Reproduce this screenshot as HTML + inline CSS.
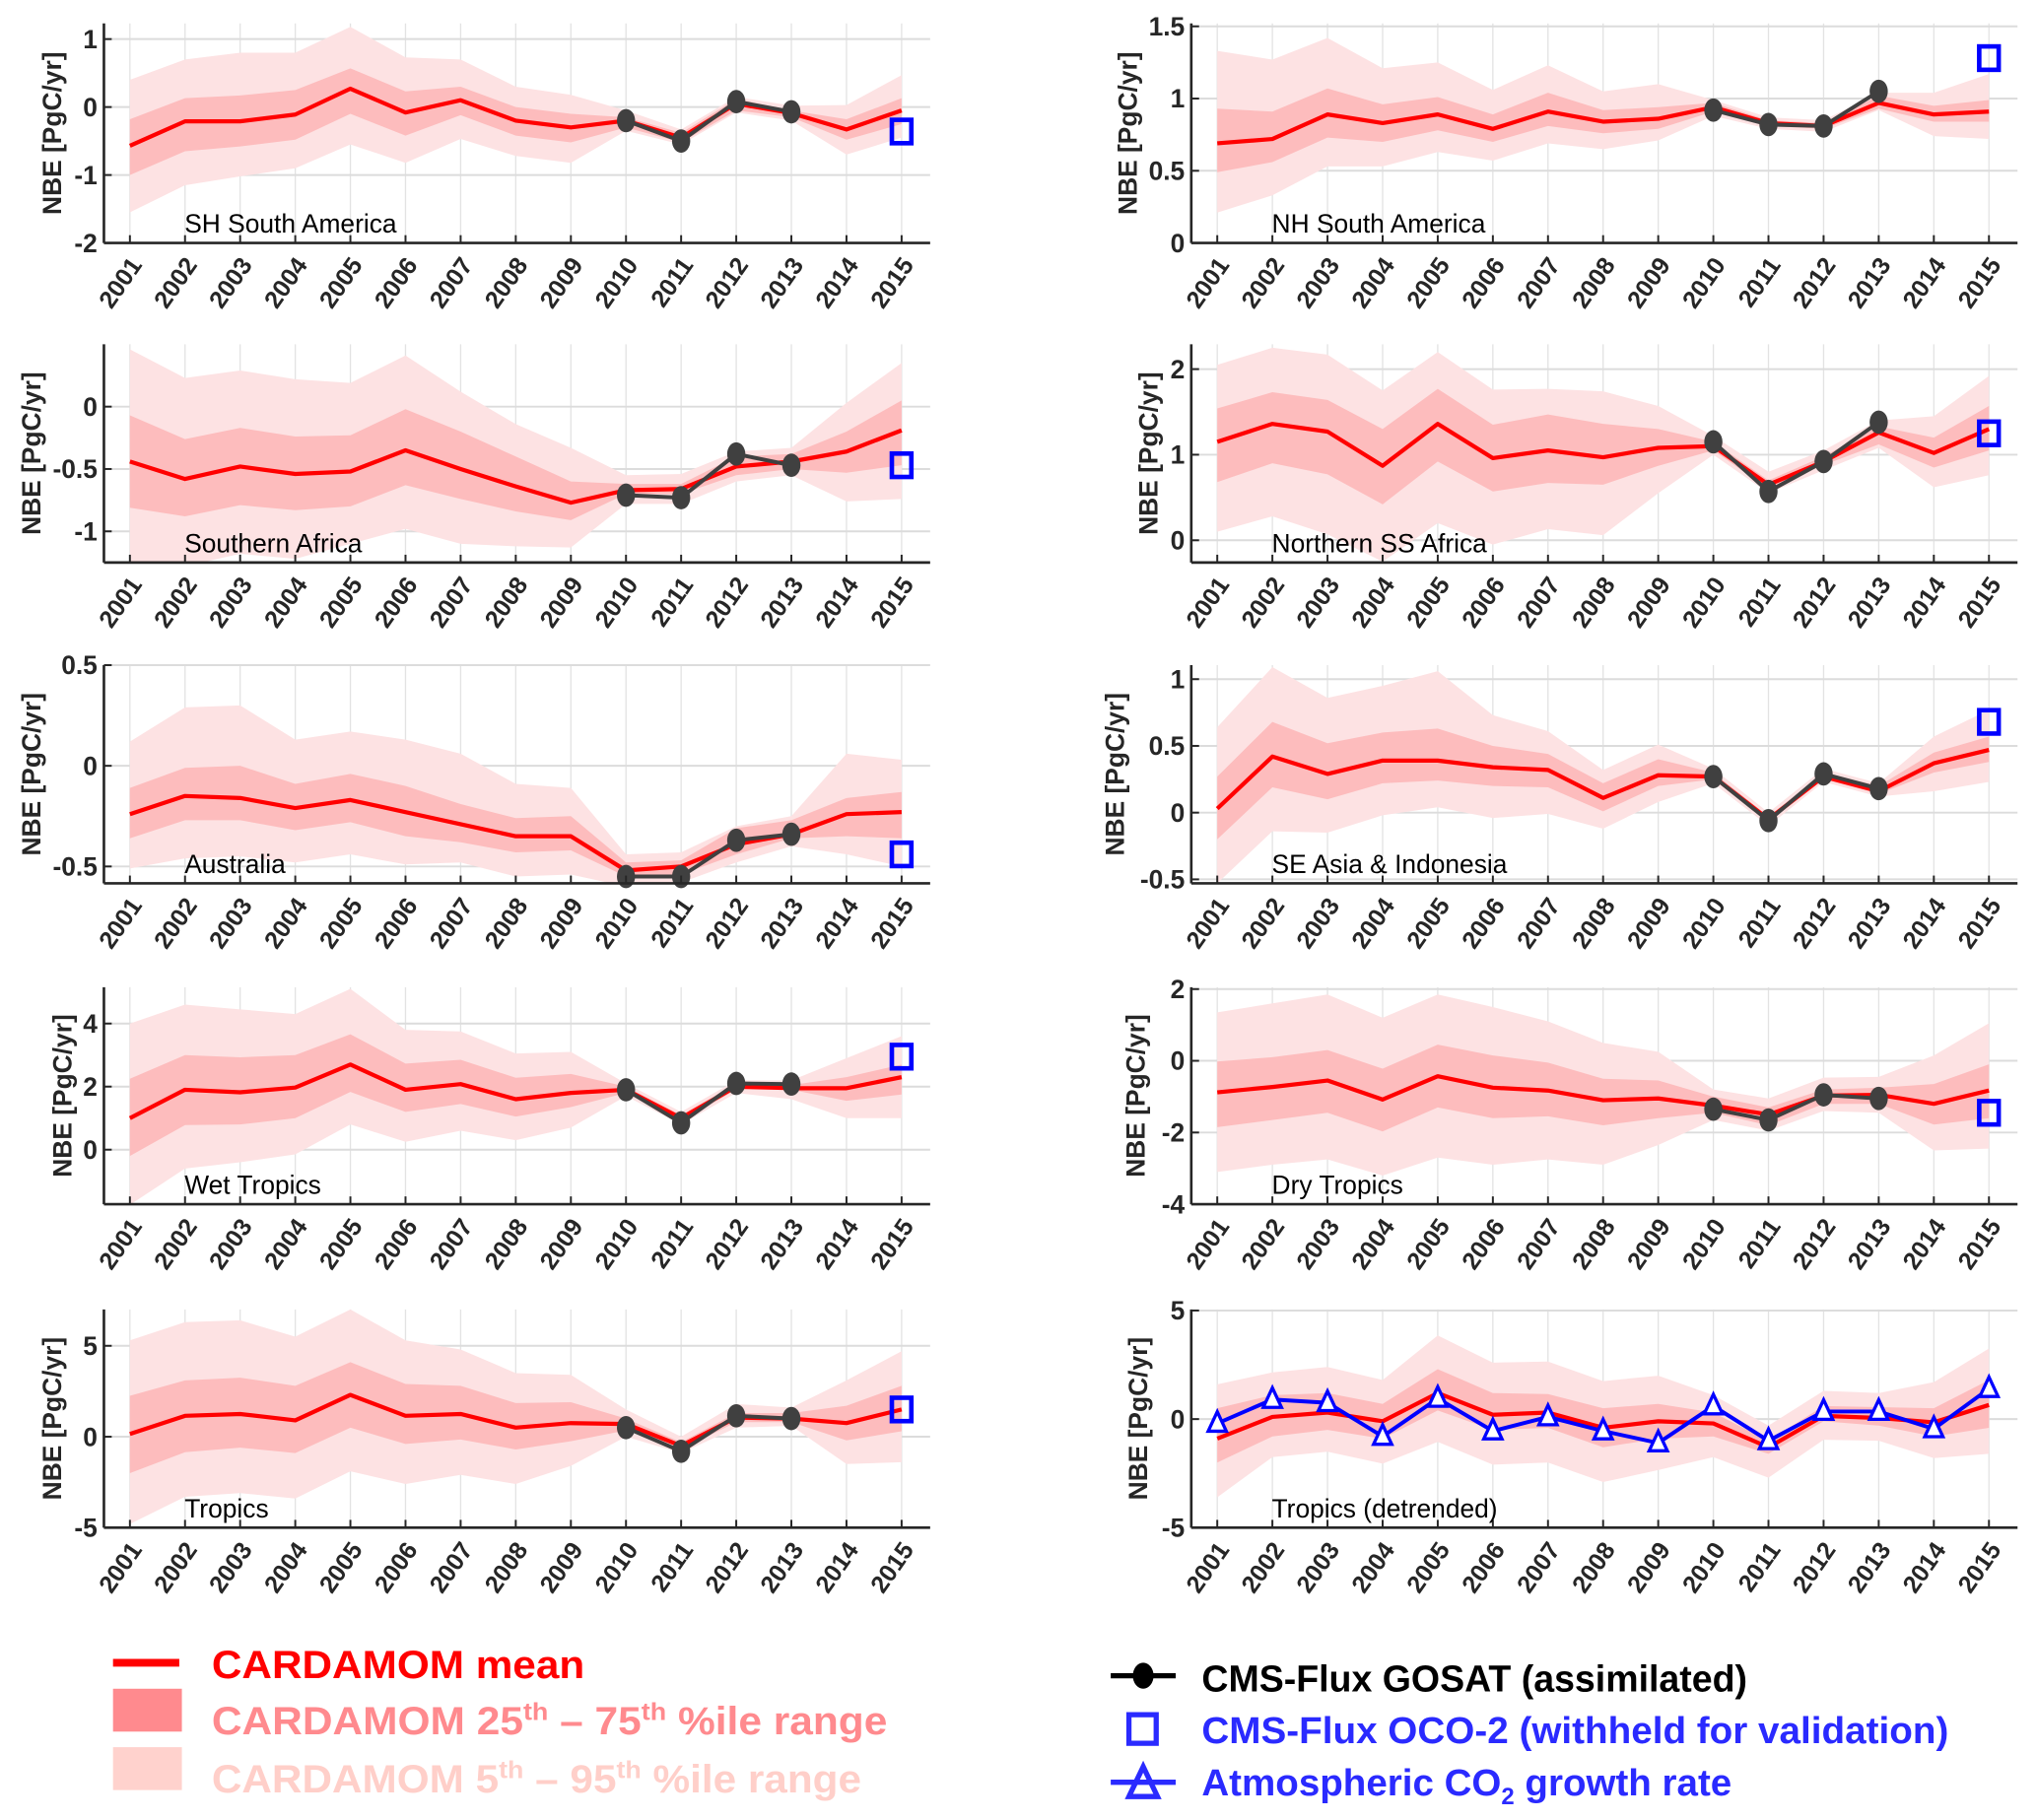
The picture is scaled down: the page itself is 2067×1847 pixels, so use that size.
<!DOCTYPE html>
<html><head><meta charset="utf-8"><style>
html,body{margin:0;padding:0;background:#fff;}
svg{display:block;}
text{font-family:"Liberation Sans",Arial,sans-serif;}
.leg{font-family:"Liberation Sans Narrow","Liberation Sans",sans-serif;font-weight:bold;}
.reg{font-family:"Liberation Sans Narrow","Liberation Sans",sans-serif;}
</style></head><body>
<svg id="fig" xmlns="http://www.w3.org/2000/svg" width="2067" height="1847" viewBox="0 0 1568 1401">
<g id="panels"></g>
<g id="legend-left">
  <line x1="87" y1="1280" x2="138" y2="1280" stroke="#ff0000" stroke-width="6"/>
  <text class="leg" x="163" y="1292" font-size="30" fill="#ff0000" textLength="287" lengthAdjust="spacingAndGlyphs">CARDAMOM mean</text>
  <rect x="87" y="1300" width="53" height="33" fill="#ff8a8e"/>
  <text class="leg" x="163" y="1335" font-size="30" fill="#ff8a8e" textLength="520" lengthAdjust="spacingAndGlyphs">CARDAMOM 25<tspan font-size="19" dy="-11">th</tspan><tspan dy="11"> – 75</tspan><tspan font-size="19" dy="-11">th</tspan><tspan dy="11"> %ile range</tspan></text>
  <rect x="87" y="1345" width="53" height="33" fill="#ffd2cd"/>
  <text class="leg" x="163" y="1380" font-size="30" fill="#ffcfc9" textLength="500" lengthAdjust="spacingAndGlyphs">CARDAMOM 5<tspan font-size="19" dy="-11">th</tspan><tspan dy="11"> – 95</tspan><tspan font-size="19" dy="-11">th</tspan><tspan dy="11"> %ile range</tspan></text>
</g>
<g id="legend-right">
  <line x1="855" y1="1290" x2="905" y2="1290" stroke="#000" stroke-width="4"/>
  <ellipse cx="880" cy="1290" rx="8" ry="10" fill="#000"/>
  <text class="leg" x="925" y="1302" font-size="29" fill="#000" textLength="420" lengthAdjust="spacingAndGlyphs">CMS-Flux GOSAT (assimilated)</text>
  <rect x="869" y="1320" width="21" height="22" fill="none" stroke="#2a2aff" stroke-width="4"/>
  <text class="leg" x="925" y="1342" font-size="29" fill="#2a2aff" textLength="575" lengthAdjust="spacingAndGlyphs">CMS-Flux OCO-2 (withheld for validation)</text>
  <line x1="855" y1="1372" x2="905" y2="1372" stroke="#2a2aff" stroke-width="4"/>
  <polygon points="880,1360 869,1383 891,1383" fill="none" stroke="#2a2aff" stroke-width="4"/>
  <text class="leg" x="925" y="1382" font-size="29" fill="#2a2aff" textLength="408" lengthAdjust="spacingAndGlyphs">Atmospheric CO<tspan font-size="18" dy="7">2</tspan><tspan dy="-7"> growth rate</tspan></text>
</g>
</svg>
<script>
const years = [2001,2002,2003,2004,2005,2006,2007,2008,2009,2010,2011,2012,2013,2014,2015];
const gosatYears = [2010,2011,2012,2013];
const ocoYear = 2015;

const shsaMean = [-0.57,-0.21,-0.21,-0.11,0.27,-0.08,0.1,-0.2,-0.3,-0.2,-0.45,0.05,-0.09,-0.33,-0.05];
const shsaP25 = [-1.0,-0.65,-0.58,-0.48,-0.1,-0.42,-0.12,-0.42,-0.52,-0.3,-0.52,-0.05,-0.15,-0.48,-0.25];
const shsaP75 = [-0.18,0.13,0.17,0.25,0.57,0.23,0.3,0.0,-0.1,-0.15,-0.38,0.12,-0.05,-0.18,0.13];
const shsaP5 = [-1.55,-1.15,-1.02,-0.9,-0.55,-0.82,-0.47,-0.72,-0.82,-0.35,-0.55,-0.08,-0.2,-0.7,-0.45];
const shsaP95 = [0.4,0.7,0.8,0.8,1.18,0.73,0.7,0.3,0.18,-0.05,-0.33,0.15,0.02,0.03,0.47];
const shsaGosat = [-0.2,-0.5,0.08,-0.07];
const shsaOco = -0.36;

const nhsaMean = [0.69,0.72,0.89,0.83,0.89,0.79,0.91,0.84,0.86,0.94,0.83,0.81,0.97,0.89,0.91];
const nhsaP25 = [0.49,0.56,0.73,0.70,0.78,0.70,0.81,0.76,0.79,0.91,0.81,0.79,0.93,0.84,0.84];
const nhsaP75 = [0.93,0.91,1.07,0.96,1.01,0.89,1.04,0.92,0.94,0.97,0.85,0.83,1.02,0.95,0.99];
const nhsaP5 = [0.21,0.33,0.53,0.53,0.63,0.57,0.69,0.65,0.71,0.88,0.79,0.77,0.92,0.74,0.72];
const nhsaP95 = [1.33,1.27,1.42,1.21,1.25,1.06,1.23,1.05,1.10,0.99,0.87,0.85,1.04,1.04,1.17];
const nhsaGosat = [0.92,0.82,0.81,1.05];
const nhsaOco = 1.28;

const safMean = [-0.44,-0.58,-0.48,-0.54,-0.52,-0.35,-0.5,-0.64,-0.77,-0.67,-0.66,-0.48,-0.44,-0.36,-0.19];
const safP25 = [-0.81,-0.88,-0.79,-0.83,-0.8,-0.63,-0.74,-0.84,-0.91,-0.7,-0.7,-0.55,-0.5,-0.53,-0.47];
const safP75 = [-0.07,-0.26,-0.17,-0.24,-0.23,-0.02,-0.2,-0.4,-0.6,-0.62,-0.62,-0.4,-0.38,-0.2,0.05];
const safP5 = [-1.3,-1.28,-1.18,-1.22,-1.1,-0.98,-1.1,-1.12,-1.13,-0.78,-0.78,-0.6,-0.55,-0.76,-0.74];
const safP95 = [0.46,0.23,0.29,0.22,0.19,0.41,0.12,-0.14,-0.33,-0.55,-0.54,-0.36,-0.33,0.03,0.35];
const safGosat = [-0.71,-0.73,-0.38,-0.47];
const safOco = -0.47;

const nssMean = [1.15,1.36,1.27,0.87,1.36,0.96,1.05,0.97,1.08,1.1,0.65,0.92,1.26,1.02,1.3];
const nssP25 = [0.68,0.9,0.77,0.42,0.92,0.57,0.67,0.65,0.87,1.05,0.6,0.88,1.12,0.85,1.05];
const nssP75 = [1.54,1.73,1.64,1.3,1.77,1.35,1.47,1.36,1.3,1.15,0.7,0.98,1.33,1.2,1.57];
const nssP5 = [0.1,0.28,0.07,-0.25,0.2,-0.05,0.13,0.06,0.55,1.0,0.55,0.82,1.08,0.62,0.76];
const nssP95 = [2.05,2.25,2.17,1.75,2.2,1.76,1.77,1.74,1.57,1.22,0.8,1.05,1.4,1.45,1.92];
const nssGosat = [1.15,0.57,0.92,1.38];
const nssOco = 1.25;

const ausMean = [-0.24,-0.15,-0.16,-0.21,-0.17,-0.23,-0.29,-0.35,-0.35,-0.52,-0.5,-0.39,-0.34,-0.24,-0.23];
const ausP25 = [-0.36,-0.27,-0.27,-0.32,-0.28,-0.35,-0.38,-0.43,-0.42,-0.55,-0.54,-0.44,-0.36,-0.35,-0.36];
const ausP75 = [-0.11,-0.01,0.0,-0.09,-0.04,-0.1,-0.19,-0.26,-0.25,-0.48,-0.47,-0.31,-0.27,-0.16,-0.13];
const ausP5 = [-0.51,-0.46,-0.45,-0.48,-0.44,-0.49,-0.48,-0.55,-0.54,-0.6,-0.58,-0.48,-0.4,-0.44,-0.5];
const ausP95 = [0.12,0.29,0.3,0.13,0.17,0.13,0.06,-0.09,-0.11,-0.44,-0.43,-0.3,-0.25,0.06,0.03];
const ausGosat = [-0.55,-0.55,-0.37,-0.34];
const ausOco = -0.44;

const seaMean = [0.03,0.42,0.29,0.39,0.39,0.34,0.32,0.11,0.28,0.27,-0.05,0.27,0.16,0.37,0.47];
const seaP25 = [-0.2,0.19,0.1,0.22,0.24,0.2,0.19,0.01,0.2,0.25,-0.07,0.25,0.14,0.3,0.38];
const seaP75 = [0.27,0.68,0.52,0.6,0.63,0.5,0.44,0.22,0.4,0.3,-0.03,0.3,0.2,0.45,0.57];
const seaP5 = [-0.53,-0.14,-0.15,-0.02,0.04,-0.04,-0.01,-0.12,0.08,0.22,-0.1,0.23,0.12,0.16,0.23];
const seaP95 = [0.64,1.09,0.86,0.95,1.06,0.73,0.61,0.32,0.51,0.33,0.0,0.33,0.22,0.57,0.77];
const seaGosat = [0.27,-0.06,0.29,0.18];
const seaOco = 0.68;

const wetMean = [1.0,1.9,1.82,1.97,2.7,1.9,2.08,1.6,1.8,1.9,1.0,2.0,1.95,1.95,2.3];
const wetP25 = [-0.2,0.78,0.8,1.0,1.83,1.2,1.45,1.05,1.35,1.8,0.9,1.9,1.9,1.55,1.75];
const wetP75 = [2.25,3.0,2.93,3.0,3.66,2.73,2.85,2.28,2.4,2.0,1.1,2.1,2.05,2.3,2.7];
const wetP5 = [-1.75,-0.6,-0.4,-0.15,0.8,0.25,0.6,0.3,0.7,1.7,0.8,1.8,1.6,1.0,1.0];
const wetP95 = [4.0,4.6,4.45,4.3,5.1,3.8,3.75,3.05,3.1,2.1,1.2,2.2,2.2,2.9,3.6];
const wetGosat = [1.9,0.85,2.1,2.08];
const wetOco = 2.95;

const dryMean = [-0.88,-0.73,-0.55,-1.08,-0.43,-0.75,-0.83,-1.1,-1.05,-1.25,-1.5,-0.97,-0.95,-1.2,-0.83];
const dryP25 = [-1.85,-1.65,-1.45,-1.97,-1.3,-1.6,-1.55,-1.8,-1.6,-1.45,-1.8,-1.2,-1.2,-1.78,-1.6];
const dryP75 = [-0.02,0.1,0.3,-0.22,0.45,0.15,-0.05,-0.5,-0.55,-1.0,-1.3,-0.8,-0.75,-0.65,-0.1];
const dryP5 = [-3.1,-2.9,-2.75,-3.2,-2.7,-2.9,-2.75,-2.9,-2.35,-1.65,-1.95,-1.4,-1.45,-2.5,-2.45];
const dryP95 = [1.35,1.6,1.85,1.2,1.85,1.5,1.1,0.5,0.25,-0.8,-1.05,-0.47,-0.45,0.15,1.05];
const dryGosat = [-1.35,-1.65,-0.95,-1.05];
const dryOco = -1.45;

const troMean = [0.15,1.15,1.25,0.9,2.3,1.15,1.25,0.5,0.75,0.7,-0.5,1.05,1.0,0.75,1.5];
const troP25 = [-2.0,-0.85,-0.6,-0.9,0.5,-0.4,-0.15,-0.7,-0.25,0.35,-0.7,0.8,0.8,-0.2,0.3];
const troP75 = [2.25,3.1,3.25,2.8,4.1,2.9,2.8,1.85,1.9,1.0,-0.3,1.3,1.3,1.7,2.8];
const troP5 = [-4.8,-3.3,-3.1,-3.4,-1.9,-2.6,-2.1,-2.6,-1.6,0.0,-0.9,0.5,0.6,-1.5,-1.4];
const troP95 = [5.3,6.3,6.4,5.5,7.0,5.3,4.8,3.5,3.4,1.5,0.0,1.8,1.6,3.1,4.7];
const troGosat = [0.5,-0.8,1.15,1.0];
const troOco = 1.5;

const detMean = [-0.9,0.1,0.3,-0.1,1.2,0.2,0.3,-0.4,-0.1,-0.2,-1.3,0.15,0.05,-0.15,0.65];
const detP25 = [-2.0,-0.8,-0.5,-0.9,0.4,-0.5,-0.4,-1.3,-0.9,-0.8,-1.6,-0.1,-0.3,-0.8,-0.4];
const detP75 = [0.5,1.1,1.2,0.7,2.3,1.2,1.15,0.5,0.7,0.3,-1.0,0.6,0.55,0.5,1.8];
const detP5 = [-3.6,-1.75,-1.5,-2.05,-1.05,-2.1,-2.0,-2.9,-2.35,-1.75,-2.7,-0.95,-1.0,-1.8,-1.6];
const detP95 = [1.6,2.15,2.4,1.8,3.85,2.6,2.65,1.75,2.0,1.1,-0.3,1.3,1.2,1.7,3.25];
const detCo2 = [-0.2,0.9,0.75,-0.8,0.95,-0.55,0.1,-0.55,-1.1,0.6,-1.0,0.35,0.35,-0.45,1.4];

const titles = ["SH South America","NH South America","Southern Africa","Northern SS Africa","Australia","SE Asia & Indonesia","Wet Tropics","Dry Tropics","Tropics","Tropics (detrended)"];
const yTicks = [[-2,-1,0,1],[0,0.5,1,1.5],[-1,-0.5,0],[0,1,2],[-0.5,0,0.5],[-0.5,0,0.5,1],[0,2,4],[-4,-2,0,2],[-5,0,5],[-5,0,5]];
const yTickLabels = [["-2","-1","0","1"],["0","0.5","1","1.5"],["-1","-0.5","0"],["0","1","2"],["-0.5","0","0.5"],["-0.5","0","0.5","1"],["0","2","4"],["-4","-2","0","2"],["-5","0","5"],["-5","0","5"]];

const panels = [
 {id:'sh-south-america', col:0,row:0, ymin:-2, ymax:1.23, mean:shsaMean,p25:shsaP25,p75:shsaP75,p5:shsaP5,p95:shsaP95,gosat:shsaGosat,oco:shsaOco, ylx:40},
 {id:'nh-south-america', col:1,row:0, ymin:0, ymax:1.52, mean:nhsaMean,p25:nhsaP25,p75:nhsaP75,p5:nhsaP5,p95:nhsaP95,gosat:nhsaGosat,oco:nhsaOco, ylx:868},
 {id:'southern-africa', col:0,row:1, ymin:-1.25, ymax:0.5, mean:safMean,p25:safP25,p75:safP75,p5:safP5,p95:safP95,gosat:safGosat,oco:safOco, ylx:24},
 {id:'northern-ss-africa', col:1,row:1, ymin:-0.26, ymax:2.29, mean:nssMean,p25:nssP25,p75:nssP75,p5:nssP5,p95:nssP95,gosat:nssGosat,oco:nssOco, ylx:884},
 {id:'australia', col:0,row:2, ymin:-0.584, ymax:0.5, mean:ausMean,p25:ausP25,p75:ausP75,p5:ausP5,p95:ausP95,gosat:ausGosat,oco:ausOco, ylx:24},
 {id:'se-asia-indonesia', col:1,row:2, ymin:-0.53, ymax:1.105, mean:seaMean,p25:seaP25,p75:seaP75,p5:seaP5,p95:seaP95,gosat:seaGosat,oco:seaOco, ylx:858},
 {id:'wet-tropics', col:0,row:3, ymin:-1.73, ymax:5.15, mean:wetMean,p25:wetP25,p75:wetP75,p5:wetP5,p95:wetP95,gosat:wetGosat,oco:wetOco, ylx:48},
 {id:'dry-tropics', col:1,row:3, ymin:-4, ymax:2.05, mean:dryMean,p25:dryP25,p75:dryP75,p5:dryP5,p95:dryP95,gosat:dryGosat,oco:dryOco, ylx:874},
 {id:'tropics', col:0,row:4, ymin:-5, ymax:7, mean:troMean,p25:troP25,p75:troP75,p5:troP5,p95:troP95,gosat:troGosat,oco:troOco, ylx:40},
 {id:'tropics-detrended', col:1,row:4, ymin:-5, ymax:5.05, mean:detMean,p25:detP25,p75:detP75,p5:detP5,p95:detP95,co2:detCo2, ylx:876}
];

const NS='http://www.w3.org/2000/svg';
const rowBottom=[187,433,680,927,1176], rowTop=[18,265,512,760,1008];
const colAxis=[80,917], colFirst=[100,937], colRight=[716,1553], step=42.43;
function mk(tag,attrs,parent){const e=document.createElementNS(NS,tag);for(const k in attrs)e.setAttribute(k,attrs[k]);parent.appendChild(e);return e;}

const root=document.getElementById('panels');
panels.forEach((p,pi)=>{
  const g=mk('g',{},root);
  
  
  const top=rowTop[p.row], bot=rowBottom[p.row], ax=colAxis[p.col], right=colRight[p.col];
  const x=yr=>colFirst[p.col]+(yr-2001)*step;
  const y=v=>bot-(v-p.ymin)/(p.ymax-p.ymin)*(bot-top);
  years.forEach(yr=>{const l=mk('line',{x1:x(yr),x2:x(yr),y1:top,y2:bot,stroke:'#e3e3e3','stroke-width':1},g);
    
    });
  yTicks[pi].forEach(v=>{const l=mk('line',{x1:ax,x2:right,y1:y(v),y2:y(v),stroke:'#dcdcdc','stroke-width':1.5},g);
    
    });
  const clipId='clip'+pi;
  const cp=mk('clipPath',{id:clipId},g); mk('rect',{x:ax,y:top,width:right-ax,height:bot-top},cp);
  const dg=mk('g',{'clip-path':'url(#'+clipId+')'},g);
  const band=(hi,lo,fill,name)=>{
    let pts=years.map((yr,i)=>x(yr)+','+y(hi[i]));
    pts=pts.concat(years.map((yr,i)=>x(yr)+','+y(lo[i])).reverse());
    const e=mk('polygon',{points:pts.join(' '),fill:fill},dg);
    
    
  };
  band(p.p95,p.p5,'#fde2e3','band-5-95');
  band(p.p75,p.p25,'#fdbcbd','band-25-75');
  const ml=mk('polyline',{points:years.map((yr,i)=>x(yr)+','+y(p.mean[i])).join(' '),fill:'none',stroke:'#ff0000','stroke-width':3.2,'stroke-linejoin':'round'},dg);
  
  
  if(p.gosat){
    const gl=mk('polyline',{points:gosatYears.map((yr,i)=>x(yr)+','+y(p.gosat[i])).join(' '),fill:'none',stroke:'#404040','stroke-width':3},g);
    
    
    gosatYears.forEach((yr,i)=>{const c=mk('ellipse',{cx:x(yr),cy:y(p.gosat[i]),rx:7,ry:9,fill:'#404040'},g);
      
      });
    const s=mk('rect',{x:x(ocoYear)-7.5,y:y(p.oco)-9,width:15,height:18,fill:'none',stroke:'#0000ff','stroke-width':3.5},g);
    
    
  }
  if(p.co2){
    const cl=mk('polyline',{points:years.map((yr,i)=>x(yr)+','+y(p.co2[i])).join(' '),fill:'none',stroke:'#0000ff','stroke-width':3},g);
    
    
    years.forEach((yr,i)=>{const cx=x(yr),cy=y(p.co2[i]);
      const t=mk('polygon',{points:(cx)+','+(cy-9)+' '+(cx-7)+','+(cy+6)+' '+(cx+7)+','+(cy+6),fill:'#fff',stroke:'#0000ff','stroke-width':2.5},g);
      
      });
  }
  const xa=mk('line',{x1:ax,x2:right,y1:bot,y2:bot,stroke:'#262626','stroke-width':2},g);
  
  
  const ya=mk('line',{x1:ax,x2:ax,y1:top,y2:bot,stroke:'#262626','stroke-width':2},g);
  
  
  years.forEach(yr=>{
    mk('line',{x1:x(yr),x2:x(yr),y1:bot,y2:bot-6,stroke:'#262626','stroke-width':1.5},g);
    const t=mk('text',{x:0,y:0,'font-size':19,'font-weight':'bold',fill:'#262626','text-anchor':'end',transform:'translate('+(x(yr)+10)+','+(bot+17)+') rotate(-55)'},g);
    t.textContent=yr;
    
    
  });
  yTicks[pi].forEach((v,i)=>{
    mk('line',{x1:ax,x2:ax+6,y1:y(v),y2:y(v),stroke:'#262626','stroke-width':1.5},g);
    const t=mk('text',{x:ax-5,y:y(v)+7,'font-size':20,'font-weight':'bold',fill:'#262626','text-anchor':'end'},g);
    t.textContent=yTickLabels[pi][i];
    
    
  });
  const yl=mk('text',{x:0,y:0,'font-size':20,'font-weight':'bold',fill:'#262626','text-anchor':'middle',transform:'translate('+(p.ylx+7)+','+((top+bot)/2)+') rotate(-90)'},g);
  yl.textContent='NBE [PgC/yr]';
  
  
  const rt=mk('text',{x:colFirst[p.col]+42,y:bot-8,'font-size':20,fill:'#000','class':'reg'},g);
  rt.textContent=titles[pi];
  
  
});
</script>
</body></html>
